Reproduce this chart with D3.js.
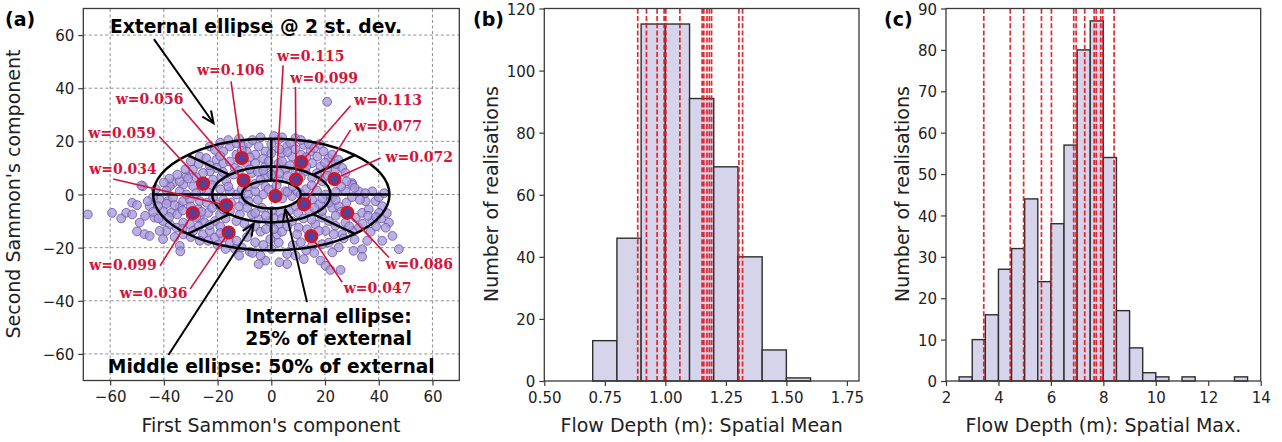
<!DOCTYPE html>
<html><head><meta charset="utf-8">
<script src="https://cdn.jsdelivr.net/npm/d3@7"></script>
<style>body{margin:0;background:#fff} text{font-family:"DejaVu Sans",sans-serif}</style>
</head><body><svg id="chart" width="1282" height="442"></svg>
<script>
// ---------- DATA ----------
// Panel (a): Sammon projection of realisations [first, second component]
const scatterXY = [
[-68.3,-7.5],[-59.3,-6.9],[-55.9,-9.0],[-54.0,-6.9],[-51.8,-3.1],[-50.0,-4.0],[-51.8,-7.5],[-45.3,-4.4],[-49.0,-10.6],[-50.0,-13.9],
[-47.2,-14.9],[-45.3,-15.6],[-40.3,-16.8],[-34.1,-19.3],[-33.9,-21.4],[-47.8,3.1],[-41.6,-1.9],[-38.5,-2.5],[-36.6,-1.2],[-40.3,-6.2],
[-37.2,-6.9],[-34.1,-4.4],[-32.8,-2.5],[-30.3,-1.9],[-26.6,-2.5],[-27.2,-5.6],[-23.5,-6.9],[-26.6,-8.7],[-30.3,-11.2],[-32.8,-10.6],
[-35.3,-12.5],[-37.8,-11.2],[-39.1,-13.7],[-32.8,-15],[-29.1,-13.7],[-25.4,-15],[-22.9,-13.7],[-26.6,-17.4],[-23.5,-17.4],[-21,-16.2],
[-17.9,-16.2],[-15.4,-18.1],[-12.9,-17.4],[-13.5,-20.6],[-11,-19.9],[-29.1,3.1],[-32.8,3.7],[-36.6,4.3],[-34.1,1.2],[-31.6,0],
[-37.8,3.1],[-21,-10],[-19.1,-7.5],[-15.4,-6.2],[-11.7,-7.5],[-10.5,-2.5],[-13,0],[-15.4,1.2],[-24.1,1.2],[-21.7,-1.2],
[-20.4,-3.7],[-24.1,-3.1],[-17.9,-1.9],[-40.3,-10],[-41.6,-13.7],[-43.5,-8.7],[-42.2,-4.4],
[-22.9,18.1],[-21,16.8],[-17.9,16.2],[-15.4,18.1],[-13,19.3],[-10.5,18.1],[-9.2,16.2],[-26.6,14.3],[-24.2,13.7],[-20.4,13.1],
[-17.9,11.8],[-15.4,12.4],[-13.6,10],[-20.4,10],[-22.9,8.7],[-25.4,8.1],[-29.2,9.3],[-31.6,6.8],[-34.1,5],[-21.7,5.6],
[-18.6,6.8],[-16.7,5],[-48.4,3.4],[-11.7,13.1],[-9.2,11.8],
[20.8,34.9],[-8.5,19.3],[-4.7,18.1],[-2.2,16.2],[2.7,20.6],[9,21.2],[12.1,18.7],[5.9,18.1],[4,15.6],[7.7,14.3],
[14.6,16.2],[17.1,14.3],[19.5,16.2],[21.4,13.7],[22.7,15],[15.2,11.8],[18.3,10.6],[20.8,9.3],[23.9,9.3],[26.4,10],
[27.6,8.1],[30.1,4.3],[-6,11.8],[-7.2,8.1],[-2.2,10.6],[2.7,11.8],[5.2,9.3],[12.7,8.7],[15.2,6.2],[18.9,5],
[2.7,5.6],[-2.2,6.8],
[30.1,3.7],[27.6,1.2],[32.6,1.2],[37.6,1.2],[35.1,-2.5],[38.8,-2.5],[41.3,-4.4],[40.1,-6.9],[43.8,-10.6],[42.6,-12.5],
[45.1,-15.6],[47.5,-20.6],[41.3,-17.4],[35.7,-17.4],[33.8,-20.6],[30.6,-21.2],[33.8,-23.4],[25.1,-19.9],[21.4,-18.1],[18.3,-24.9],
[20.2,-26.8],[22,-28.4],[25.8,-28.4],[22.7,-21.8],[18.9,-18.7],[15.2,-19.3],[12.1,-24.3],[5.9,-26.2],[5.9,-22.4],[2.8,-18.1],
[2.1,-15],[-0.4,-16.8],[-2.2,-24.9],[-4.7,-26.2],[-7.2,-7.5],[-4.7,-9.3],[-1,-10],[2.7,-11.2],[7.7,-10],[10.2,-12.5],
[9.6,-15],[13.3,-13.1],[16.4,-11.2],[18.9,-8.7],[21.4,-10],[23.9,-11.8],[27.6,-10.6],[31.4,-8.7],[33.8,-6.9],[36.3,-5.6],
[37.6,-10],[32.6,-12.5],[30.1,-13.7],[26.4,-15],[23.3,-15],[20.2,-13.7],[17.7,-13.7],[18.9,-6.2],[22.7,-5],[25.1,-4.4],
[21.4,-3.1],[17.7,-3.7],[15.2,-1.9],[20.2,0],[22.7,-1.2],[9,-4.4],[6.5,-6.2],[3.4,-6.9],[0.2,-6.2],[-3.5,-5],
[-8.5,0],[-6,1.2],[-2.2,3.1],[5.2,1.2],[7.7,-0.6],[9.6,1.2],[-8.5,-2.5],
[-19,19.5],[-16,20.5],[-12,21],[-7,20.5],[-4,21.5],[0,19],[1,22],[4,21.5],[7,19.5],[11,20.5],
[14,19],[16,17.5],[18,19],[-6,15],[-3,13.5],[0,15.5],[3,17],[6,16],[9,17],[11,15],
[13,14],[-1,12.5],[1,9],[4,12.5],[7,11],[9,9],[10,12],[-13,15],[-11,16.5],[-8,14],
[-19,14.5],[-23,11],[-27,11.5],[-18,8.5],[-14,7.5],[-12,9],[-8,9.5],[-5,8.5],[-3,9],[0,7.5],
[3,8],[6,7],[11,6.5],[13,10.5],[17,8],[21,7],[24,11.5],[25,13],[20,12],[-30,12.5],
[-32,9.5],[-28,6.5],[-35,7.5],[-38,6],[-40,4.5],[-43,2],[-39,1.5],[-44,-1],[-46,-2.5],[-44,-6.5],
[-47,-8],[-42,-9],[-38,-8.5],[-35,-7.5],[-33,-6],[-30,-4.5],[-28,-8.5],[-25,-10.5],[-27,-12],[-23,-11.5],
[-19,-12],[-17,-9],[-13,-10],[-10,-11],[-8,-13],[-6,-12],[-4,-14],[-2,-13],[1,-13],[4,-14],
[6,-12],[-9,-16],[-6,-18],[-3,-19],[0,-20.5],[-8,-21.5],[-17,-20.5],[-20,-19],[-5,-2],[-3,0],
[-1,2],[2,3.5],[4,-1.5],[6,1],[8,3],[-6,4],[-4,5.5],[-9,3],[-11,2],[-12,-4.5],
[-9,-5],[-6,-7],[-2,-8],[1,-9],[4,-9],[10,-7],[12,-9],[14,-6],[15,-9.5],[16,-5],
[19,-1.5],[24,-2],[26,-6.5],[28,-3],[30,-1],[33,-2],[35,0.5],[36,-8],[39,-8.5],[34,-11],
[29,-12],[24,-8],[27,-16.5],[31,-17],[37,-14],[39,-12],[41,-9],[43,-7],[40,-1],[42,0.5],
[28,5],[31,2.5],[26,3],[24,1],[13,2],[15,3.5],[17,1.5],[11,0],[13,-2],[-16,3],
[-19,2],[-22,3.5],[-26,2],[-28,0.5],[-18,-5.5],[-22,-5],[-26,-6.5],[-15,-3],[-36,-4],[-39,-3.5],
[-30,-8],[-31,6],[-33,-13],[-36,-16],[-30,-16],[-19,-14.5],[-7,-22],[-4,-23],[8,-19],[11,-18],
[13,-21],[9,-23],[16,-22],[-12,-23],[3,-25.5]
];
// representative realisations (one per ellipse sector) and their weights
const repX = [1.5,-11,9.2,11.2,12.2,23.5,-10.3,-25.4,-16.8,-29.2,-15.9,14.9,28.3];
const repY = [-0.6,13.7,5.6,12.2,-3.7,5.8,5.3,4.1,-4.1,-7,-14.3,-15.7,-6.9];
const repW = ["0.115","0.106","0.099","0.113","0.077","0.072","0.056","0.059","0.034","0.099","0.036","0.047","0.086"];
// label anchor (text start) and leader-line start, in data units
const repLabelX = [2.1,-27.7,7.1,30.9,30.9,42.5,-57.9,-68.2,-67.8,-67.8,-56.4,27.0,42.5];
const repLabelY = [50.3,45.1,42.1,33.5,24.0,12.3,33.9,21.2,7.8,-28.3,-38.9,-36.9,-27.9];
const repLineX = [4.4,-15.0,9.0,29.5,29.5,40.7,-33.3,-41.7,-58.9,-41.4,-30.2,26.4,43.8];
const repLineY = [48.6,42.6,40.5,33.4,24.3,13.7,32.4,21.8,5.8,-26.8,-35.5,-33.0,-23.7];
// ellipses: external semi-axes (2 st. dev.) and relative sizes
const ellipseAxes = [44, 21];
const ellipseFractions = [1, 0.5, 0.25];
const axisTicksA = [-60,-40,-20,0,20,40,60];

// Panel (b): spatial mean flow depth histogram
const meanBinStart = [0.7,0.8,0.9,1.0,1.1,1.2,1.3,1.4,1.5];
const meanBinWidth = 0.1;
const meanCounts = [13,46,115,115,91,69,40,10,1];
const meanSelected = [0.886,0.922,0.966,0.995,1.002,1.060,1.152,1.159,1.172,1.182,1.191,1.304,1.319];
const meanTicksX = [0.5,0.75,1.0,1.25,1.5,1.75];
const meanTicksY = [0,20,40,60,80,100,120];

// Panel (c): spatial max flow depth histogram
const maxBinStart = [2.5,3,3.5,4,4.5,5,5.5,6,6.5,7,7.5,8,8.5,9,9.5,10,10.5,11,11.5,12,12.5,13];
const maxBinWidth = 0.5;
const maxCounts = [1,10,16,27,32,44,24,38,57,80,87,54,17,8,2,1,0,1,0,0,0,1];
const maxSelected = [3.44,4.45,4.96,5.64,6.02,6.87,6.96,7.29,7.65,7.73,7.90,7.98,8.41];
const maxTicksX = [2,4,6,8,10,12,14];
const maxTicksY = [0,10,20,30,40,50,60,70,80,90];

// ---------- DRAW ----------
const svg = d3.select("#chart");
svg.append("rect").attr("width",1282).attr("height",442).attr("fill","#fff");
const TICK_FS = "15px", LABEL_FS = "19px";
const spineColor = "#3a3a3a";
const TOP = 8.5;

function styleAxis(g){
  g.select(".domain").remove();
  g.selectAll(".tick line").attr("stroke",spineColor).attr("stroke-width",1.2);
  g.selectAll(".tick text").attr("fill","#222").style("font-size",TICK_FS).style("font-family","DejaVu Sans");
}
function styleYAxis(g){
  styleAxis(g);
  g.selectAll(".tick text").attr("dy","0.37em");
}
function frame(x0,x1,y0,y1){
  svg.append("rect").attr("x",x0).attr("y",y1).attr("width",x1-x0).attr("height",y0-y1)
    .attr("fill","none").attr("stroke",spineColor).attr("stroke-width",1.3);
}

// ===== Panel (a) =====
const xA = d3.scaleLinear().domain([-70,70]).range([83.3,459.3]);
const yA = d3.scaleLinear().domain([-70,70]).range([380.5,TOP]);
const gA = svg.append("g");
// grid
axisTicksA.forEach(t=>{
  gA.append("line").attr("x1",xA(t)).attr("x2",xA(t)).attr("y1",yA(-70)).attr("y2",yA(70))
    .attr("stroke","#8f8f8f").attr("stroke-width",1).attr("stroke-dasharray","3,2.5");
  gA.append("line").attr("y1",yA(t)).attr("y2",yA(t)).attr("x1",xA(-70)).attr("x2",xA(70))
    .attr("stroke","#8f8f8f").attr("stroke-width",1).attr("stroke-dasharray","3,2.5");
});
// scatter
gA.append("g").selectAll("circle").data(scatterXY).join("circle")
  .attr("cx",d=>xA(d[0])).attr("cy",d=>yA(d[1])).attr("r",4.4)
  .attr("fill","#a89ad6").attr("fill-opacity",0.78)
  .attr("stroke","#6e55b0").attr("stroke-width",1).attr("stroke-opacity",0.85);
// ellipses
const [ea, eb] = ellipseAxes;
ellipseFractions.forEach(f=>{
  gA.append("ellipse").attr("cx",xA(0)).attr("cy",yA(0))
    .attr("rx",xA(ea*f)-xA(0)).attr("ry",yA(0)-yA(eb*f))
    .attr("fill","none").attr("stroke","#000").attr("stroke-width",2.5);
});
// sector lines
[0,90,180,270].forEach(deg=>{
  const t = deg*Math.PI/180;
  gA.append("line")
    .attr("x1",xA(ea*0.25*Math.cos(t))).attr("y1",yA(eb*0.25*Math.sin(t)))
    .attr("x2",xA(ea*Math.cos(t))).attr("y2",yA(eb*Math.sin(t)))
    .attr("stroke","#000").attr("stroke-width",2.5);
});
[45,135,225,315].forEach(deg=>{
  const t = deg*Math.PI/180;
  gA.append("line")
    .attr("x1",xA(ea*0.5*Math.cos(t))).attr("y1",yA(eb*0.5*Math.sin(t)))
    .attr("x2",xA(ea*Math.cos(t))).attr("y2",yA(eb*Math.sin(t)))
    .attr("stroke","#000").attr("stroke-width",2.5);
});
// leader lines, labels, representative points
const red = "#d3143a";
repX.forEach((x,i)=>{
  gA.append("line").attr("x1",xA(repLineX[i])).attr("y1",yA(repLineY[i]))
    .attr("x2",xA(x)).attr("y2",yA(repY[i])).attr("stroke",red).attr("stroke-width",1.6);
  gA.append("text").attr("x",xA(repLabelX[i])).attr("y",yA(repLabelY[i]))
    .attr("fill",red).style("font-family","'DejaVu Serif',serif").style("font-weight","bold")
    .style("font-size","14px").text("w="+repW[i]);
});
repX.forEach((x,i)=>{
  gA.append("circle").attr("cx",xA(x)).attr("cy",yA(repY[i])).attr("r",5.8)
    .attr("fill","#5a3d98").attr("stroke","#d7141f").attr("stroke-width",2.6);
});
// black annotation arrows
function arrow(x1,y1,x2,y2){
  const X1=xA(x1),Y1=yA(y1),X2=xA(x2),Y2=yA(y2);
  gA.append("line").attr("x1",X1).attr("y1",Y1).attr("x2",X2).attr("y2",Y2)
    .attr("stroke","#000").attr("stroke-width",2);
  const ang=Math.atan2(Y2-Y1,X2-X1), L=13, h=0.42;
  gA.append("path").attr("d",`M${X2-L*Math.cos(ang-h)},${Y2-L*Math.sin(ang-h)}L${X2},${Y2}L${X2-L*Math.cos(ang+h)},${Y2-L*Math.sin(ang+h)}`)
    .attr("fill","none").attr("stroke","#000").attr("stroke-width",2);
}
arrow(-43.7,58.5,-21.5,26.8);
arrow(-38.3,-60.4,-6.6,-11);
arrow(13.3,-40.5,5.2,-5.6);
const boldTxt = (x,y,t,anchor)=>gA.append("text").attr("x",xA(x)).attr("y",yA(y))
  .attr("text-anchor",anchor).style("font-weight","bold").style("font-size","18.7px").attr("fill","#000").text(t);
boldTxt(-5.7,60.9,"External ellipse @ 2 st. dev.","middle");
boldTxt(-9.7,-48.4,"Internal ellipse:","start");
boldTxt(-9.7,-56.7,"25% of external","start");
boldTxt(0,-67.3,"Middle ellipse: 50% of external","middle");
// axes
gA.append("g").attr("transform","translate(0,380.5)").call(d3.axisBottom(xA).tickValues(axisTicksA).tickSize(5).tickPadding(6)).call(styleAxis);
gA.append("g").attr("transform","translate(83.3,0)").call(d3.axisLeft(yA).tickValues(axisTicksA).tickSize(5).tickPadding(4)).call(styleYAxis);
frame(83.3,459.3,380.5,TOP);
svg.append("text").attr("x",271).attr("y",432).attr("text-anchor","middle").style("font-size",LABEL_FS).attr("fill","#222").text("First Sammon's component");
svg.append("text").attr("transform","translate(20,194) rotate(-90)").attr("text-anchor","middle").style("font-size",LABEL_FS).attr("fill","#222").text("Second Sammon's component");
svg.append("text").attr("x",5).attr("y",26).style("font-weight","bold").style("font-size","19px").text("(a)");

// ===== histogram helper =====
function histPanel(x0,x1,xDom,yDom,binStart,binW,counts,selected,ticksX,ticksY,fmt,xlabel,ylabelX,tag,tagX){
  const y0=381, y1=TOP;
  const x = d3.scaleLinear().domain(xDom).range([x0,x1]);
  const y = d3.scaleLinear().domain(yDom).range([y0,y1]);
  const g = svg.append("g");
  const bins = binStart.map((b,i)=>({b, c:counts[i]})).filter(d=>d.c>0);
  g.selectAll("rect.bar").data(bins).join("rect").attr("class","bar")
    .attr("x",d=>x(d.b)).attr("width",d=>x(d.b+binW)-x(d.b))
    .attr("y",d=>y(d.c)).attr("height",d=>y(0)-y(d.c))
    .attr("fill","#d6d4ea").attr("stroke","#2e2e2e").attr("stroke-width",1.4);
  g.selectAll("line.sel").data(selected).join("line").attr("class","sel")
    .attr("x1",d=>x(d)).attr("x2",d=>x(d)).attr("y1",y0).attr("y2",y1)
    .attr("stroke","#e0141c").attr("stroke-opacity",0.9).attr("stroke-width",1.7).attr("stroke-dasharray","5,2.2");
  g.append("g").attr("transform",`translate(0,${y0})`).call(d3.axisBottom(x).tickValues(ticksX).tickFormat(fmt).tickSize(5).tickPadding(6)).call(styleAxis);
  g.append("g").attr("transform",`translate(${x0},0)`).call(d3.axisLeft(y).tickValues(ticksY).tickSize(5).tickPadding(4)).call(styleYAxis);
  frame(x0,x1,y0,y1);
  svg.append("text").attr("x",(x0+x1)/2).attr("y",432).attr("text-anchor","middle").style("font-size",LABEL_FS).attr("fill","#222").text(xlabel);
  svg.append("text").attr("transform",`translate(${ylabelX},194) rotate(-90)`).attr("text-anchor","middle").style("font-size",LABEL_FS).attr("fill","#222").text("Number of realisations");
  svg.append("text").attr("x",tagX).attr("y",26).style("font-weight","bold").style("font-size","19px").text(tag);
}
histPanel(544.3,859,[0.5,1.8],[0,120],meanBinStart,meanBinWidth,meanCounts,meanSelected,meanTicksX,meanTicksY,d3.format(".2f"),"Flow Depth (m): Spatial Mean",498,"(b)",473);
histPanel(946,1260.7,[2,14],[0,90],maxBinStart,maxBinWidth,maxCounts,maxSelected,maxTicksX,maxTicksY,d3.format("d"),"Flow Depth (m): Spatial Max.",909,"(c)",884);
</script></body></html>
